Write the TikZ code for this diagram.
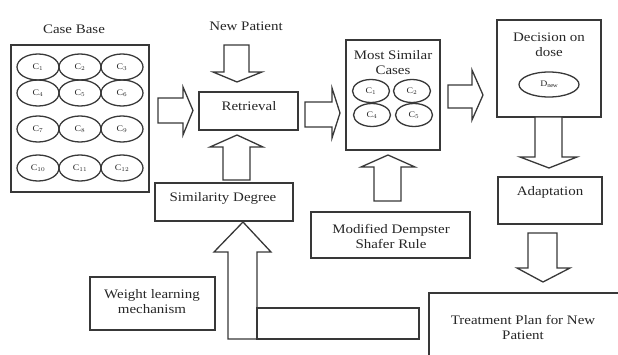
\documentclass[tikz,border=0pt]{standalone}
\usepackage{fontspec}
\usetikzlibrary{shapes.geometric}
\setmainfont{Liberation Serif}[FakeStretch=1.15]
\begin{document}
\begin{tikzpicture}[x=1pt,y=-1pt,
  ink/.style={draw=black!78, line width=1.3pt},
  box/.style={ink, rectangle, inner sep=0pt},
  blk/.style={ink, fill=white, line join=miter},
  oval/.style={ink, ellipse, inner sep=0pt},
  txt/.style={text=black!85, font=\fontsize{13}{15}\selectfont, align=center, inner sep=0pt},
  sub/.style={text=black!85, font=\fontsize{8.5}{9}\selectfont, inner sep=0pt}]
\useasboundingbox (0,0) rectangle (618,355);
\clip (0,0) rectangle (618,355);

% --- case base with twelve cases ---
\node[txt] (cbt) at (74,29) {Case Base};
\node[box, minimum width=138, minimum height=147] (cb) at (80,118.5) {};
\foreach \r/\y in {0/67,1/93,2/129,3/168}{
  \foreach \c/\x in {0/38,1/80,2/122}{
    \pgfmathtruncatemacro{\k}{3*\r+\c+1}
    \node[oval, minimum width=42, minimum height=26] (c\k) at (\x,\y) {};
    \node[sub] at (c\k) {C$_{\k}$};
  }
}

% --- retrieval ---
\node[txt] (np) at (246,26) {New Patient};
\node[box, minimum width=99, minimum height=38] (ret) at (248.5,111) {};
\node[txt] at (249,106) {Retrieval};

% --- most similar cases ---
\node[box, minimum width=94, minimum height=110] (msc) at (393,95) {};
\node[txt] at (393,62.5) {Most Similar\\Cases};
\foreach \n/\x/\y/\k in {m1/371/91/1, m2/412/91/2, m4/372/115/4, m5/414/115/5}{
  \node[oval, minimum width=37, minimum height=23] (\n) at (\x,\y) {};
  \node[sub] at (\n) {C$_{\k}$};
}

% --- decision on dose ---
\node[box, minimum width=104, minimum height=97] (dec) at (549,68.5) {};
\node[txt] at (549,45) {Decision on\\dose};
\node[oval, minimum width=60, minimum height=25] (dnew) at (549,84.5) {};
\node[sub] at (dnew) {D$_{\mathrm{new}}$};

% --- adaptation ---
\node[box, minimum width=104, minimum height=47] (adp) at (550,200.5) {};
\node[txt] at (550,192) {Adaptation};

% --- treatment plan (runs past the frame) ---
\draw[ink] (429,365) -- (429,293) -- (630,293);
\node[txt] (tp) at (523,327.5) {Treatment Plan for New\\Patient};

% --- similarity degree, rule, weight learning ---
\node[box, minimum width=138, minimum height=38] (sim) at (224,202) {};
\node[txt] at (223,198) {Similarity Degree};
\node[box, minimum width=159, minimum height=46] (mds) at (390.5,235) {};
\node[txt] at (391,236.5) {Modified Dempster\\Shafer Rule};
\node[box, minimum width=125, minimum height=53] (wlm) at (152.5,303.5) {};
\node[txt] at (152,301.5) {Weight learning\\mechanism};

% --- block arrows ---
% case base -> retrieval
\draw[blk] (158,98) -- (183,98) -- (183,87) -- (193,110.5) -- (183,135) -- (183,123) -- (158,123) -- cycle;
% new patient -> retrieval
\draw[blk] (224,45) -- (249,45) -- (249,72) -- (262,72) -- (237,82) -- (213,72) -- (224,72) -- cycle;
% similarity degree -> retrieval
\draw[blk] (223,180) -- (223,147) -- (210,147) -- (237,135) -- (263,147) -- (250,147) -- (250,180) -- cycle;
% retrieval -> most similar cases
\draw[blk] (305,102) -- (332,102) -- (332,88) -- (340,113) -- (332,138) -- (332,127) -- (305,127) -- cycle;
% most similar cases -> decision
\draw[blk] (448,85) -- (472,85) -- (472,70) -- (483,95) -- (472,120) -- (472,108) -- (448,108) -- cycle;
% decision -> adaptation
\draw[blk] (535,117) -- (562,117) -- (562,157) -- (577,157) -- (549,168) -- (520,157) -- (535,157) -- cycle;
% adaptation -> treatment plan
\draw[blk] (528,233) -- (557,233) -- (557,268) -- (570,268) -- (543,282) -- (517,268) -- (528,268) -- cycle;
% rule -> most similar cases
\draw[blk] (374,201) -- (374,167) -- (361,167) -- (388,155) -- (415,167) -- (401,167) -- (401,201) -- cycle;
% weight learning -> similarity degree
\draw[blk] (228,339) -- (228,252) -- (214,252) -- (243,222) -- (271,252) -- (257,252) -- (257,339) -- cycle;
\draw[blk] (257,308) rectangle (419,339);
\end{tikzpicture}
\end{document}
